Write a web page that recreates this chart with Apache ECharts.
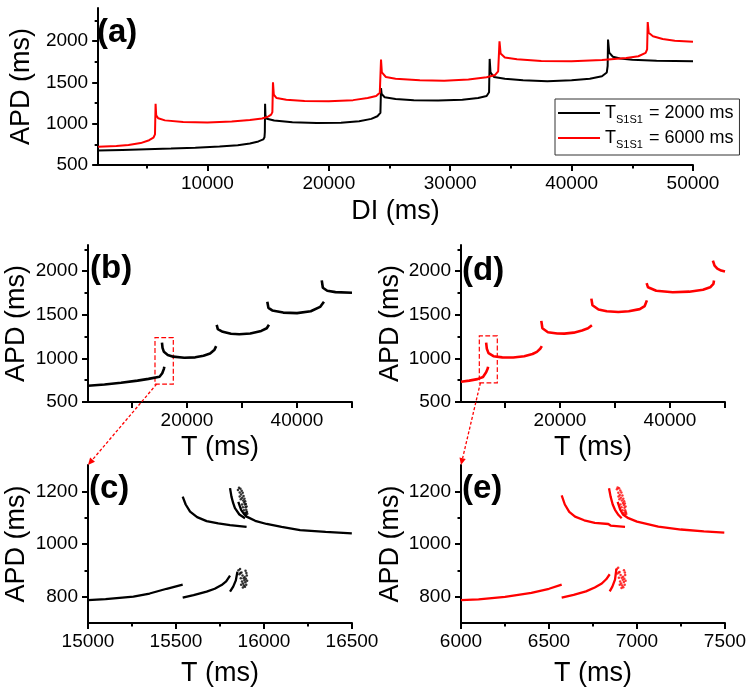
<!DOCTYPE html>
<html><head><meta charset="utf-8">
<script src="https://cdn.jsdelivr.net/npm/echarts@6/dist/echarts.min.js"></script>
<style>html,body{margin:0;padding:0;background:#fff}#c{width:750px;height:695px}</style>
</head><body><div id="c"></div>
<script>
// ---------- Panel (a): APD vs DI ----------
const aBlack = [[1000,674],[3000,683],[5000,692],[7000,700],[9000,710],[11000,724],[12500,740],[13500,760],[14200,785],[14600,810],[14700,835],[14730,900],[14750,1241],[14780,1100],[14900,1060],[15500,1038],[17000,1018],[19000,1008],[21000,1012],[22500,1030],[23500,1058],[24000,1090],[24250,1130],[24300,1430],[24350,1360],[24600,1320],[25500,1300],[27000,1285],[29000,1280],[31000,1290],[32300,1310],[33000,1335],[33200,1380],[33250,1784],[33320,1620],[33600,1565],[34500,1545],[36000,1525],[38000,1515],[40000,1525],[41500,1545],[42500,1575],[42900,1620],[42970,1700],[43000,2019],[43100,1860],[43400,1810],[44000,1790],[45000,1775],[47000,1762],[50000,1755]];
const aRed = [[1000,722],[2500,730],[3500,742],[4500,765],[5200,800],[5550,830],[5680,870],[5730,1241],[5780,1100],[5950,1065],[6500,1040],[8000,1020],[10000,1014],[12000,1025],[13500,1045],[14500,1062],[15000,1085],[15250,1110],[15350,1140],[15400,1500],[15470,1350],[15700,1310],[16500,1290],[18000,1275],[20000,1270],[22000,1285],[23200,1310],[23900,1335],[24200,1375],[24300,1776],[24370,1620],[24700,1565],[25500,1545],[27500,1525],[29500,1521],[31500,1535],[33000,1561],[33700,1590],[33950,1634],[34060,1998],[34150,1850],[34500,1800],[35500,1780],[37500,1760],[40000,1755],[42500,1770],[44500,1795],[45500,1816],[46100,1857],[46220,1900],[46270,2229],[46350,2100],[46700,2059],[47500,2025],[48500,2005],[50000,1991]];
const aNames = ['2000', '6000'];
const aXLabels = [10000,20000,30000,40000,50000];
const aXMinor = [5000,15000,25000,35000,45000];
const apdLabels = [500,1000,1500,2000];
const apdMinor = [750,1250,1750,2250];

// ---------- Panel (b): black, APD vs T ----------
const bSegs = [
  [[2000,686],[5000,700],[8000,720],[11000,745],[13000,765],[15000,790],[15500,830],[15800,880],[15880,905]],
  [[15450,1180],[15550,1120],[15800,1075],[16500,1040],[17500,1020],[19500,1008],[21500,1012],[23000,1030],[24200,1056],[25000,1100],[25300,1140]],
  [[25400,1385],[25600,1335],[26500,1305],[28000,1282],[29500,1276],[31500,1285],[33500,1315],[34500,1345],[34900,1385]],
  [[34600,1650],[34800,1580],[35500,1550],[37500,1525],[40000,1519],[42500,1540],[44200,1590],[44900,1650]],
  [[44500,1895],[44700,1810],[45500,1775],[47000,1760],[50000,1752]]
];
const bBox = [[14180,705],[17510,1238]];
// ---------- Panel (d): red, APD vs T ----------
const dSegs = [
  [[2000,732],[3500,745],[5000,762],[6000,787],[6570,840],[6840,880],[6930,905]],
  [[6570,1180],[6700,1110],[7000,1060],[7900,1025],[9500,1012],[11500,1010],[13500,1025],[15000,1050],[15800,1075],[16400,1110],[16700,1140]],
  [[16600,1430],[16800,1345],[17800,1300],[19500,1285],[20800,1284],[22500,1295],[24000,1320],[25100,1345],[25800,1380]],
  [[25700,1685],[25900,1610],[27000,1560],[28500,1540],[30600,1531],[32500,1540],[34500,1565],[35400,1600],[35800,1665]],
  [[35750,1862],[36000,1815],[37500,1775],[40500,1759],[43500,1765],[46000,1786],[47300,1815],[47900,1855],[48000,1893]],
  [[47800,2121],[48100,2064],[48600,2030],[49300,2007],[50000,1995]]
];
const dBox = [[5330,720],[8600,1257]];
const bdXLabels = [20000,40000];
const bdXTicks = [10000,20000,30000,40000,50000];

// ---------- Panel (c): zoom of (b) ----------
const cSegs = [
  [[15000,787],[15100,791],[15258,800],[15350,812],[15447,830],[15538,846]],
  [[15538,796],[15600,806],[15674,819],[15720,830],[15759,844],[15785,858],[15807,880]],
  [[15807,819],[15825,838],[15840,862],[15849,895]],
  [[15538,1180],[15555,1150],[15580,1123],[15620,1102],[15674,1087],[15740,1078],[15807,1072],[15812,1068],[15901,1065]],
  [[15807,1212],[15815,1180],[15825,1155],[15835,1136],[15860,1112],[15892,1098]],
  [[15854,1160],[15870,1130],[15885,1115],[15901,1104],[15950,1088],[16015,1076],[16100,1065],[16205,1053],[16350,1046],[16499,1040]]
];
const cDots = [[15852,1205],[15858,1214],[15862,1196],[15866,1210],[15870,1188],[15873,1202],[15876,1176],[15879,1195],[15882,1165],[15884,1182],[15887,1158],[15889,1172],[15891,1150],[15893,1162],[15895,1140],[15897,1152],[15899,1130],[15901,1142],[15903,1122],[15880,1140],[15886,1128],[15892,1118],[15898,1112],[15875,1150],[15868,1170],[15862,1180],[15905,1115],[15900,1120],
  [15855,900],[15860,885],[15864,905],[15868,870],[15872,892],[15875,858],[15878,880],[15881,850],[15884,870],[15886,842],[15889,862],[15892,838],[15894,855],[15897,868],[15899,845],[15902,880],[15904,860],[15870,845],[15880,835],[15890,875],[15866,890],[15895,898],[15900,890]];
const cXLabels = [15000,15500,16000,16500];
const cXMinor = [15250,15750,16250];
// ---------- Panel (e): zoom of (d) ----------
const eSegs = [
  [[6000,787],[6100,790],[6250,799],[6400,814],[6500,830],[6572,846]],
  [[6572,796],[6640,807],[6710,820],[6760,835],[6800,850],[6825,866],[6845,885]],
  [[6845,820],[6860,838],[6875,865],[6883,905]],
  [[6572,1185],[6590,1150],[6615,1122],[6648,1104],[6700,1090],[6760,1080],[6837,1076],[6850,1070],[6932,1065]],
  [[6841,1212],[6850,1180],[6862,1150],[6875,1130],[6895,1110],[6913,1098]],
  [[6890,1160],[6905,1130],[6920,1112],[6951,1098],[7000,1085],[7121,1066],[7250,1055],[7380,1048],[7496,1043]]
];
const eDots = [[6886,1208],[6890,1215],[6894,1195],[6898,1212],[6902,1186],[6905,1203],[6908,1176],[6911,1196],[6914,1165],[6917,1184],[6920,1156],[6922,1172],[6925,1148],[6927,1162],[6929,1138],[6931,1154],[6933,1128],[6935,1142],[6937,1120],[6912,1140],[6918,1128],[6924,1118],[6930,1112],[6906,1150],[6900,1170],[6895,1180],[6939,1114],[6934,1122],
  [6885,905],[6889,888],[6893,910],[6897,872],[6901,894],[6904,858],[6907,882],[6910,850],[6913,872],[6916,842],[6919,864],[6922,836],[6925,856],[6928,868],[6930,845],[6933,882],[6935,860],[6902,845],[6912,833],[6921,876],[6897,892],[6926,900],[6931,892]];
const eXLabels = [6000,6500,7000,7500];
const eXMinor = [6250,6750,7250];
const ceYLabels = [800,1000,1200];
const ceYMinor = [900,1100];

const FONT = 'Liberation Sans, Arial, sans-serif';
const chart = echarts.init(document.getElementById('c'));

const grids = [
  {left:95, top:8, width:598, height:157},
  {left:88, top:245, width:264, height:157},
  {left:461, top:245, width:264, height:157},
  {left:88, top:465, width:264, height:158},
  {left:461, top:465, width:264, height:158}
];
const lineStyle = {color:'#000', width:2};
const plain = v => String(v);
function mainX(g, min, max, labels, ticks, name, gap) {
  return {type:'value', gridIndex:g, min, max, position:'bottom', name, nameLocation:'middle', nameGap:gap,
    nameTextStyle:{fontFamily:FONT, fontSize:27, color:'#000'},
    axisLine:{show:true, onZero:false, lineStyle}, splitLine:{show:false},
    axisTick:{show:true, customValues:ticks, length:6, lineStyle},
    axisLabel:{customValues:labels, formatter:plain, fontFamily:FONT, fontSize:19, color:'#000', margin:9}};
}
function helperX(g, min, max, ticks) {
  return {type:'value', gridIndex:g, min, max, position:'bottom', axisLine:{show:false, onZero:false}, splitLine:{show:false},
    axisTick:{show:true, customValues:ticks, length:3.5, lineStyle}, axisLabel:{show:false}};
}
function mainY(g, min, max, labels, gap) {
  return {type:'value', gridIndex:g, min, max, position:'left', name:'APD (ms)', nameLocation:'middle', nameGap:gap,
    nameTextStyle:{fontFamily:FONT, fontSize:27, color:'#000'},
    axisLine:{show:true, onZero:false, lineStyle}, splitLine:{show:false},
    axisTick:{show:true, customValues:labels, length:6, lineStyle},
    axisLabel:{customValues:labels, formatter:plain, fontFamily:FONT, fontSize:19, color:'#000', margin:10}};
}
function helperY(g, min, max, ticks) {
  return {type:'value', gridIndex:g, min, max, position:'left', axisLine:{show:false, onZero:false}, splitLine:{show:false},
    axisTick:{show:true, customValues:ticks, length:3.5, lineStyle}, axisLabel:{show:false}};
}

const xAxis = [
  mainX(0, 1000, 50000, aXLabels, aXLabels, 'DI (ms)', 33),
  mainX(1, 2000, 50000, bdXLabels, bdXTicks, 'T (ms)', 32),
  mainX(2, 2000, 50000, bdXLabels, bdXTicks, 'T (ms)', 32),
  mainX(3, 15000, 16500, cXLabels, cXLabels, 'T (ms)', 37),
  mainX(4, 6000, 7500, eXLabels, eXLabels, 'T (ms)', 37),
  helperX(0, 1000, 50000, aXMinor),
  helperX(3, 15000, 16500, cXMinor),
  helperX(4, 6000, 7500, eXMinor)
];
const yAxis = [
  mainY(0, 500, 2400, apdLabels, 60),
  mainY(1, 500, 2300, apdLabels, 58),
  mainY(2, 500, 2300, apdLabels, 57),
  mainY(3, 700, 1300, ceYLabels, 58),
  mainY(4, 700, 1300, ceYLabels, 57),
  helperY(0, 500, 2400, apdMinor),
  helperY(1, 500, 2300, apdMinor),
  helperY(2, 500, 2300, apdMinor),
  helperY(3, 700, 1300, ceYMinor),
  helperY(4, 700, 1300, ceYMinor)
];

const BLACK = '#000000', RED = '#ff0000';
const series = [];
function addLine(data, ax, color, width, name) {
  const s = {type:'line', name, data, xAxisIndex:ax, yAxisIndex:ax, showSymbol:false, symbol:'none',
    lineStyle:{color, width}, itemStyle:{color}, animation:false, z:3};
  series.push(s); return s;
}
addLine(aBlack, 0, BLACK, 2, aNames[0]);
addLine(aRed, 0, RED, 2, aNames[1]);
const boxStyle = {color:'rgba(0,0,0,0)', borderColor:RED, borderWidth:1.2, borderType:'dashed'};
bSegs.forEach((s,i) => { const o = addLine(s, 1, BLACK, 2.6);
  if (i===0) o.markArea = {silent:true, itemStyle:boxStyle, data:[[{coord:bBox[0]},{coord:bBox[1]}]]}; });
dSegs.forEach((s,i) => { const o = addLine(s, 2, RED, 2.6);
  if (i===0) o.markArea = {silent:true, itemStyle:boxStyle, data:[[{coord:dBox[0]},{coord:dBox[1]}]]}; });
cSegs.forEach(s => addLine(s, 3, BLACK, 2.3));
eSegs.forEach(s => addLine(s, 4, RED, 2.3));
series.push({type:'scatter', data:cDots, xAxisIndex:3, yAxisIndex:3, symbolSize:2.5, itemStyle:{color:BLACK}, animation:false});
series.push({type:'scatter', data:eDots, xAxisIndex:4, yAxisIndex:4, symbolSize:2.5, itemStyle:{color:RED}, animation:false});

const panelLabels = [['(a)',97,16],['(b)',90,252],['(d)',462,254],['(c)',89,472],['(e)',462,472]];
const title = panelLabels.map(p => ({text:p[0], left:p[1], top:p[2], padding:0,
  textStyle:{fontFamily:FONT, fontSize:33, fontWeight:'bold', color:'#000'}}));

chart.setOption({
  animation:false,
  backgroundColor:'#fff',
  title,
  grid: grids,
  xAxis, yAxis, series,
  legend: {data:aNames, orient:'vertical', left:555, top:99, itemGap:4,
    borderColor:'#333', borderWidth:1, padding:[5,6,5,3],
    icon:'rect', itemWidth:42, itemHeight:2,
    formatter: n => '{t|T}{s|S1S1}{t| = ' + n + ' ms}',
    textStyle:{color:'#000', fontFamily:FONT, rich:{
      t:{fontSize:18, fontFamily:FONT, color:'#000', lineHeight:24, verticalAlign:'middle'},
      s:{fontSize:11, fontFamily:FONT, color:'#000', lineHeight:24, verticalAlign:'bottom', padding:[8,1,0,0]}
    }}}
});

function arrow(from, to) {
  const dx = to[0]-from[0], dy = to[1]-from[1];
  const L = Math.hypot(dx, dy), ux = dx/L, uy = dy/L;
  const head = 7, hw = 3.2;
  const bx = to[0]-ux*head, by = to[1]-uy*head;
  return [
    {type:'line', shape:{x1:from[0], y1:from[1], x2:bx, y2:by}, style:{stroke:RED, lineWidth:1.3, lineDash:[3,2]}, z:10},
    {type:'polygon', shape:{points:[[to[0],to[1]],[bx-uy*hw, by+ux*hw],[bx+uy*hw, by-ux*hw]]}, style:{fill:RED}, z:10}
  ];
}
const p1 = chart.convertToPixel({xAxisIndex:1, yAxisIndex:1}, [bBox[0][0]+300, bBox[0][1]]);
const p2 = chart.convertToPixel({xAxisIndex:3, yAxisIndex:3}, [15000, 1300]);
const p3 = chart.convertToPixel({xAxisIndex:2, yAxisIndex:2}, [dBox[0][0]+200, dBox[0][1]]);
const p4 = chart.convertToPixel({xAxisIndex:4, yAxisIndex:4}, [6000, 1300]);
chart.setOption({graphic:{elements:[...arrow(p1,p2), ...arrow(p3,p4)]}});
</script></body></html>
